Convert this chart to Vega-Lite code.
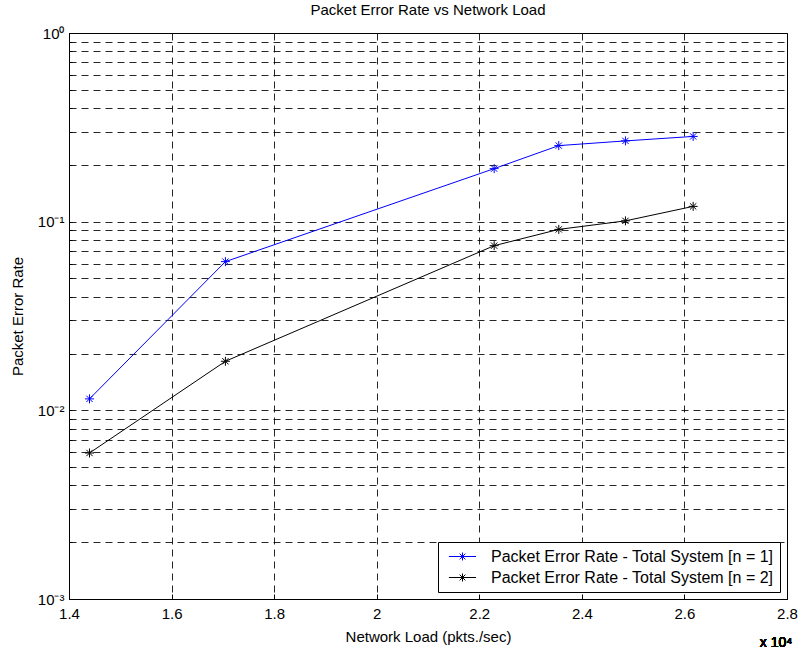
{
  "$schema": "https://vega.github.io/schema/vega-lite/v6.json",
  "autosize": {"type": "none"},
  "width": 718,
  "height": 566,
  "padding": {"left": 69, "top": 33, "right": 14, "bottom": 52},
  "background": "white",
  "title": {
    "text": "Packet Error Rate vs Network Load",
    "font": "Liberation Sans",
    "fontSize": 15,
    "fontWeight": "normal",
    "color": "black",
    "offset": 8
  },
  "config": {
    "font": "Liberation Sans",
    "view": {"stroke": "black", "strokeWidth": 1},
    "axis": {
      "domainColor": "black",
      "tickColor": "black",
      "labelColor": "black",
      "titleColor": "black",
      "labelFont": "Liberation Sans",
      "titleFont": "Liberation Sans",
      "labelFontSize": 15,
      "titleFontSize": 15,
      "titleFontWeight": "normal",
      "gridColor": "black",
      "gridOpacity": 0.85,
      "gridDash": [7, 5],
      "gridWidth": 1
    },
    "legend": {
      "orient": "bottom-right",
      "offset": 7,
      "strokeColor": "black",
      "fillColor": "white",
      "padding": 6,
      "labelFont": "Liberation Sans",
      "labelFontSize": 16,
      "labelColor": "black",
      "labelLimit": 0,
      "symbolType": "M-1.7,0L1.7,0M-0.5,0L0.5,0M0,-0.5L0,0.5M-0.36,-0.36L0.36,0.36M-0.36,0.36L0.36,-0.36",
      "symbolSize": 256,
      "symbolStrokeWidth": 1,
      "symbolFillColor": "transparent",
      "symbolOffset": 10,
      "labelOffset": 20,
      "rowPadding": 4
    }
  },
  "data": {
    "values": [
      {"load": 14400, "per": 0.0115, "series": "Packet Error Rate - Total System [n = 1]"},
      {"load": 17050, "per": 0.0614, "series": "Packet Error Rate - Total System [n = 1]"},
      {"load": 22290, "per": 0.191, "series": "Packet Error Rate - Total System [n = 1]"},
      {"load": 23550, "per": 0.253, "series": "Packet Error Rate - Total System [n = 1]"},
      {"load": 24850, "per": 0.268, "series": "Packet Error Rate - Total System [n = 1]"},
      {"load": 26170, "per": 0.283, "series": "Packet Error Rate - Total System [n = 1]"},
      {"load": 14400, "per": 0.00594, "series": "Packet Error Rate - Total System [n = 2]"},
      {"load": 17050, "per": 0.0182, "series": "Packet Error Rate - Total System [n = 2]"},
      {"load": 22290, "per": 0.0746, "series": "Packet Error Rate - Total System [n = 2]"},
      {"load": 23550, "per": 0.091, "series": "Packet Error Rate - Total System [n = 2]"},
      {"load": 24850, "per": 0.101, "series": "Packet Error Rate - Total System [n = 2]"},
      {"load": 26170, "per": 0.1205, "series": "Packet Error Rate - Total System [n = 2]"}
    ]
  },
  "layer": [
    {
      "mark": {"type": "line", "strokeWidth": 1},
      "encoding": {
        "x": {
          "field": "load",
          "type": "quantitative",
          "scale": {"domain": [14000, 28000], "nice": false, "zero": false},
          "axis": {
            "values": [14000, 16000, 18000, 20000, 22000, 24000, 26000, 28000],
            "labelExpr": "format(datum.value / 10000, '.2~g')",
            "title": "Network Load (pkts./sec)",
            "titlePadding": 8,
            "tickSize": -5,
            "labelPadding": 12,
            "labelFlush": false,
            "grid": true
          }
        },
        "y": {
          "field": "per",
          "type": "quantitative",
          "scale": {"type": "log", "domain": [0.001, 1], "nice": false},
          "axis": {
            "values": [0.001, 0.002, 0.003, 0.004, 0.005, 0.006, 0.007, 0.008, 0.009,
                       0.01, 0.02, 0.03, 0.04, 0.05, 0.06, 0.07, 0.08, 0.09,
                       0.1, 0.2, 0.3, 0.4, 0.5, 0.6, 0.7, 0.8, 0.9, 1],
            "labelExpr": "datum.value === 1 ? '10⁰' : datum.value === 0.1 ? '10⁻¹' : datum.value === 0.01 ? '10⁻²' : datum.value === 0.001 ? '10⁻³' : ''",
            "labelOverlap": false,
            "labelFlush": false,
            "title": "Packet Error Rate",
            "titlePadding": 12,
            "tickSize": -3,
            "labelPadding": 8,
            "grid": true
          }
        },
        "color": {
          "field": "series",
          "type": "nominal",
          "scale": {"range": ["#0000ff", "#000000"]},
          "legend": {"title": null}
        }
      }
    },
    {
      "mark": {
        "type": "point",
        "shape": "M-1,0L1,0M0,-1L0,1M-0.7,-0.7L0.7,0.7M-0.7,0.7L0.7,-0.7",
        "filled": false,
        "size": 81,
        "strokeWidth": 1,
        "opacity": 1
      },
      "encoding": {
        "x": {"field": "load", "type": "quantitative"},
        "y": {"field": "per", "type": "quantitative"},
        "color": {"field": "series", "type": "nominal", "legend": null}
      }
    },
    {
      "mark": {"type": "text", "text": "x 10⁴", "font": "Liberation Sans", "fontSize": 14, "color": "black", "align": "center", "baseline": "middle", "dy": 44, "dx": -11},
      "encoding": {
        "x": {"datum": 28000},
        "y": {"datum": 0.001}
      }
    }
  ]
}
